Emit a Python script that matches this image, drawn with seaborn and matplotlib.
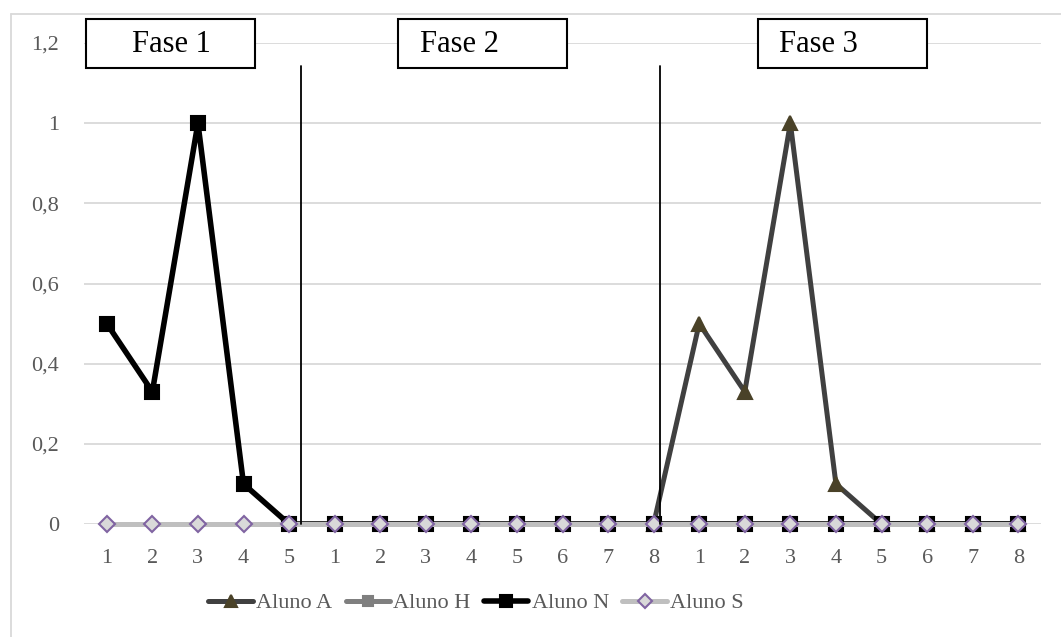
import numpy as np
import pandas as pd
import matplotlib
matplotlib.use("Agg")
import matplotlib.pyplot as plt
from matplotlib.patches import Rectangle
from matplotlib.lines import Line2D
import seaborn as sns

# ---- data ----
tick_labels = ["1", "2", "3", "4", "5",
               "1", "2", "3", "4", "5", "6", "7", "8",
               "1", "2", "3", "4", "5", "6", "7", "8"]
phases = ["Fase 1", "Fase 2", "Fase 3"]
nan = np.nan
aluno_a = [nan, nan, nan, nan, nan,
           nan, nan, nan, nan, nan, nan, nan, 0,
           0.5, 0.33, 1, 0.1, 0, 0, 0, 0]
aluno_h = [nan, nan, nan, nan, 0,
           0, 0, 0, 0, 0, 0, 0, 0,
           0, 0, 0, 0, 0, 0, 0, 0]
aluno_n = [0.5, 0.33, 1, 0.1, 0,
           0, 0, 0, 0, 0, 0, 0, 0,
           0, 0, 0, 0, 0, 0, 0, 0]
aluno_s = [0, 0, 0, 0, 0,
           0, 0, 0, 0, 0, 0, 0, 0,
           0, 0, 0, 0, 0, 0, 0, 0]
y_ticks = [0, 0.2, 0.4, 0.6, 0.8, 1, 1.2]

series = {"Aluno A": aluno_a, "Aluno H": aluno_h,
          "Aluno N": aluno_n, "Aluno S": aluno_s}

styles = {
    "Aluno A": dict(color="#404040", lw=3.6, marker="^", ms=10.5,
                    mfc="#4a4228", mec="#4a4228"),
    "Aluno H": dict(color="#7f7f7f", lw=3.6, marker="s", ms=9,
                    mfc="#7f7f7f", mec="#7f7f7f"),
    "Aluno N": dict(color="#000000", lw=4.0, marker="s", ms=10,
                    mfc="#000000", mec="#000000"),
    "Aluno S": dict(color="#bfbfbf", lw=3.6, marker="D", ms=8,
                    mfc="#d9d9d9", mec="#8064a2"),
}

W, H = 1061, 637
sns.set_theme(style="white")
plt.rcParams["font.family"] = ["Liberation Serif", "DejaVu Serif"]

fig = plt.figure(figsize=(W / 100, H / 100), dpi=100)
fig.patch.set_facecolor("white")

def fx(px):
    return px / W

def fy(py):
    return (H - py) / H

ax = fig.add_axes([fx(84), fy(524), fx(1041) - fx(84), fy(43) - fy(524)])
ax.set_facecolor("white")

pos = np.arange(len(tick_labels))
for name, vals in series.items():
    df = pd.DataFrame({"pos": pos, "value": vals}).dropna()
    st = styles[name]
    sns.lineplot(data=df, x="pos", y="value", ax=ax, color=st["color"],
                 linewidth=st["lw"], marker=st["marker"], markersize=st["ms"],
                 markerfacecolor=st["mfc"], markeredgecolor=st["mec"],
                 markeredgewidth=1.5, sort=True, errorbar=None, legend=False,
                 zorder=3, clip_on=False)

ax.set_xlim(-0.5, len(tick_labels) - 0.5)
ax.set_ylim(0, 1.2)
ax.set_xticks(pos)
ax.set_xticklabels(tick_labels)
ax.set_yticks(y_ticks)
ax.set_yticklabels([("%g" % v).replace(".", ",") for v in y_ticks])
ax.set_xlabel("")
ax.set_ylabel("")
ax.grid(axis="y", color="#d9d9d9", linewidth=1.3)
ax.grid(axis="x", visible=False)
for sp in ax.spines.values():
    sp.set_visible(False)
ax.tick_params(axis="x", length=0, pad=18, labelsize=16, labelcolor="#595959")
ax.tick_params(axis="y", length=0, pad=18, labelsize=16, labelcolor="#595959")

# outer chart border (top & left visible)
fig.add_artist(Line2D([fx(11), fx(11)], [fy(14), 0], color="#d9d9d9", lw=1.3,
                      transform=fig.transFigure))
fig.add_artist(Line2D([fx(11), 1], [fy(14), fy(14)], color="#d9d9d9", lw=1.3,
                      transform=fig.transFigure))

# phase separators
for xp in (301, 660):
    fig.add_artist(Line2D([fx(xp), fx(xp)], [fy(66), fy(524)], color="black",
                          lw=1.3, transform=fig.transFigure, zorder=4))

# phase boxes
boxes = [(86, 255, 171), (398, 567, 420), (758, 927, 779)]
for (x0, x1, tx), label in zip(boxes, phases):
    fig.add_artist(Rectangle((fx(x0), fy(68)), fx(x1) - fx(x0), fy(19) - fy(68),
                             transform=fig.transFigure, facecolor="white",
                             edgecolor="black", lw=1.5, zorder=5))
    ha = "center" if label == "Fase 1" else "left"
    fig.text(fx(tx), fy(45), label, ha=ha, va="center", fontsize=22,
             color="black", zorder=6)

# legend
handles = []
for name in series:
    st = styles[name]
    handles.append(Line2D([], [], color=st["color"], lw=st["lw"],
                          marker=st["marker"], ms=st["ms"] * 0.85,
                          mfc=st["mfc"], mec=st["mec"], mew=1.5))
fig.legend(handles, list(series.keys()), loc="center",
           bbox_to_anchor=(fx(476), fy(603)), ncol=4, frameon=False,
           fontsize=16, labelcolor="#595959", handlelength=2.0,
           handletextpad=0.15, columnspacing=0.6)

fig.savefig("out.png", dpi=100, facecolor="white")
